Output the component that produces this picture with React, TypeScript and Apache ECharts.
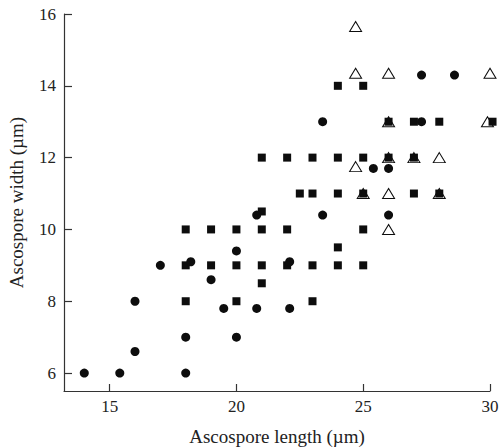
import React, { useEffect, useRef } from "react";
import * as echarts from "echarts";

const xTicks = [15, 20, 25, 30];
const yTicks = [6, 8, 10, 12, 14, 16];

const circlePoints: number[][] = [
  [14, 6], [15.4, 6], [16, 8], [16, 6.6], [17, 9], [18, 6], [18, 7], [18.2, 9.1],
  [19, 8.6], [19.5, 7.8], [20, 9.4], [20, 7], [20.8, 7.8], [20.8, 10.4], [22.1, 9.1],
  [22.1, 7.8], [23.4, 10.4], [26, 10.4], [23.4, 13], [27.3, 13], [27.3, 14.3],
  [28.6, 14.3], [25.4, 11.7], [26, 11.7],
];

const squarePoints: number[][] = [
  [18, 10], [18, 9], [18, 8], [19, 10], [19, 9], [20, 10], [20, 9], [20, 8],
  [21, 10.5], [21, 10], [21, 9], [21, 8.5], [21, 12], [22, 12], [23, 12], [24, 12],
  [25, 12], [22, 10], [22, 9], [23, 9], [24, 9], [25, 9], [23, 8], [24, 9.5], [25, 10],
  [22.5, 11], [23, 11], [24, 11], [25, 11], [27, 11], [28, 11], [24, 14], [25, 14],
  [26, 13], [27, 13], [28, 13], [30.1, 13], [26, 12], [27, 12],
];

const trianglePoints: number[][] = [
  [24.7, 15.65], [24.7, 14.35], [26, 14.35], [30, 14.35], [26, 13], [29.9, 13],
  [26, 12], [27, 12], [28, 12], [24.7, 11.75], [25, 11], [26, 11], [28, 11], [26, 10],
];

const FONT = "Liberation Serif";
const INK = "#0d0d0d";
const AXIS = "#333";

export default function App() {
  const ref = useRef<HTMLDivElement>(null);
  useEffect(() => {
    if (!ref.current) return;
    const chart = echarts.init(ref.current, undefined, { renderer: "svg" });
    chart.setOption({
      animation: false,
      backgroundColor: "#ffffff",
      grid: { left: 64, right: 9, top: 14, bottom: 57, containLabel: false, outerBoundsMode: "none" },
      xAxis: {
        type: "value",
        min: 13.2,
        max: 30,
        name: "Ascospore length (µm)",
        nameLocation: "middle",
        nameGap: 36,
        nameTextStyle: { fontFamily: FONT, fontSize: 19, color: "#222" },
        axisLine: { show: true, lineStyle: { color: AXIS, width: 1.2 } },
        axisTick: { show: true, inside: true, length: 7, customValues: xTicks, lineStyle: { color: AXIS, width: 1.2 } },
        axisLabel: { customValues: xTicks, fontFamily: FONT, fontSize: 17, color: "#222", margin: 7 },
        splitLine: { show: false },
      },
      yAxis: {
        type: "value",
        min: 5.5,
        max: 16,
        name: "Ascospore width (µm)",
        nameLocation: "middle",
        nameRotate: 90,
        nameGap: 38,
        nameTextStyle: { fontFamily: FONT, fontSize: 19, color: "#222" },
        axisLine: { show: true, lineStyle: { color: AXIS, width: 1.2 } },
        axisTick: { show: true, inside: true, length: 8, customValues: yTicks, lineStyle: { color: AXIS, width: 1.2 } },
        axisLabel: { customValues: yTicks, fontFamily: FONT, fontSize: 17, color: "#222", margin: 8 },
        splitLine: { show: false },
      },
      series: [
        {
          type: "scatter",
          data: squarePoints,
          symbol: "rect",
          symbolSize: 8,
          clip: false,
          itemStyle: { color: INK, opacity: 1 },
        },
        {
          type: "scatter",
          data: circlePoints,
          symbol: "circle",
          symbolSize: 9,
          clip: false,
          itemStyle: { color: INK, opacity: 1 },
        },
        {
          type: "scatter",
          data: trianglePoints,
          symbol: "triangle",
          symbolSize: [12, 10],
          clip: false,
          itemStyle: { color: "transparent", borderColor: INK, borderWidth: 1, opacity: 1 },
        },
      ],
    });
    return () => chart.dispose();
  }, []);
  return (
    <div
      ref={ref}
      style={{ position: "fixed", left: 0, top: 0, width: 499, height: 448 }}
    />
  );
}
